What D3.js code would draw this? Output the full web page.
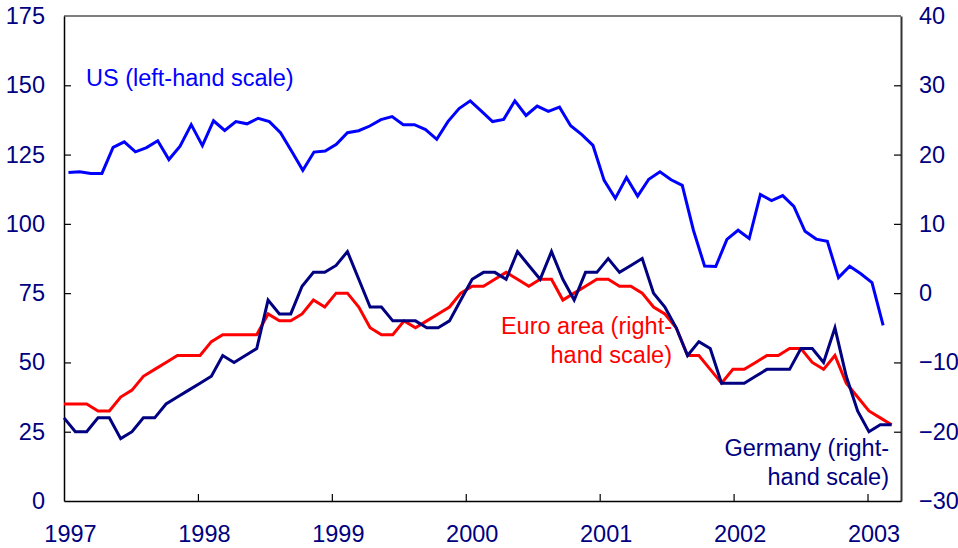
<!DOCTYPE html>
<html>
<head>
<meta charset="utf-8">
<script src="https://cdn.jsdelivr.net/npm/d3@7"></script>
<style>
  body { margin: 0; background: #fff; }
  svg text { font-family: "Liberation Sans", Arial, sans-serif; }
</style>
</head>
<body>
<div id="chart"></div>
<script>
// monthly series, Jan 1997 onwards
var usValues = [118.5, 118.8, 118.2, 118.2, 127.6, 129.6, 126.0, 127.5, 130.0, 123.2, 128.0, 135.8,
  128.2, 137.2, 133.7, 136.9, 136.1, 138.1, 136.9, 132.9, 126.2, 119.3, 125.9, 126.3,
  128.7, 132.9, 133.6, 135.3, 137.6, 138.7, 135.8, 135.8, 134.0, 130.5, 136.9, 141.6,
  144.4, 140.7, 136.9, 137.7, 144.4, 139.1, 142.5, 140.6, 142.1, 135.4, 132.2, 128.3,
  115.7, 109.2, 116.7, 110.0, 116.1, 118.8, 115.9, 113.9, 97.7, 84.8, 84.6, 94.4,
  97.7, 94.7, 110.6, 108.4, 110.2, 106.3, 97.3, 94.5, 93.7, 80.6, 84.7, 82.0,
  78.8, 63.4];
var euroValues = [-16, -16, -16, -17, -17, -15, -14, -12, -11, -10, -9, -9,
  -9, -7, -6, -6, -6, -6, -3, -4, -4, -3, -1, -2,
  0, 0, -2, -5, -6, -6, -4, -5, -4, -3, -2, 0,
  1, 1, 2, 3, 2, 1, 2, 2, -1, 0, 1, 2,
  2, 1, 1, 0, -2, -3, -5, -9, -9, -11, -13, -11,
  -11, -10, -9, -9, -8, -8, -10, -11, -9, -13, -15, -17,
  -18, -19];
var germanyValues = [-18, -20, -20, -18, -18, -21, -20, -18, -18, -16, -15, -14,
  -13, -12, -9, -10, -9, -8, -1, -3, -3, 1, 3, 3,
  4, 6, 2, -2, -2, -4, -4, -4, -5, -5, -4, -1,
  2, 3, 3, 2, 6, 4, 2, 6, 2, -1, 3, 3,
  5, 3, 4, 5, 0, -2, -5, -9, -7, -8, -13, -13,
  -13, -12, -11, -11, -11, -8, -8, -10, -5, -12, -17, -20,
  -19, -19];
var yearTicks = [1997, 1998, 1999, 2000, 2001, 2002, 2003];
var leftTicks = [0, 25, 50, 75, 100, 125, 150, 175];
var rightTicks = [-30, -20, -10, 0, 10, 20, 30, 40];

var width = 958, height = 548;
var margin = {top: 16, right: 57, bottom: 47, left: 64};
var x0 = margin.left, x1 = width - margin.right;
var y0 = height - margin.bottom, y1 = margin.top;
var fontSize = 23.5;

var svg = d3.select("#chart").append("svg")
    .attr("width", width)
    .attr("height", height);

var x = d3.scaleLinear().domain([1997, 2003.25]).range([x0, x1]);
var yLeft = d3.scaleLinear().domain([0, 175]).range([y0, y1]);
var yRight = d3.scaleLinear().domain([-30, 40]).range([y0, y1]);

// US plotted mid-month; survey series spread over their own span
var usX = function(d, i) { return x(1997 + (i + 0.4) / 12); };
var surveyX = d3.scaleLinear().domain([0, euroValues.length - 1]).range([x(1997), x(2003.18)]);

var navy = "#000080";

// frame
svg.append("line").attr("x1", x0).attr("x2", x1).attr("y1", y1).attr("y2", y1)
  .attr("stroke", "#000").attr("stroke-width", 1.2);

var axL = svg.append("g").attr("transform", "translate(" + x0 + ",0)")
  .call(d3.axisLeft(yLeft).tickValues(leftTicks).tickSizeInner(-7).tickSizeOuter(0).tickPadding(19));
var axR = svg.append("g").attr("transform", "translate(" + x1 + ",0)")
  .call(d3.axisRight(yRight).tickValues(rightTicks).tickSizeInner(-7).tickSizeOuter(0).tickPadding(18));
var axB = svg.append("g").attr("transform", "translate(0," + y0 + ")")
  .call(d3.axisBottom(x).tickValues(yearTicks).tickFormat(d3.format("d")).tickSizeInner(-7).tickSizeOuter(0).tickPadding(24));

[axL, axR, axB].forEach(function(g) {
  g.select(".domain").attr("stroke", "#000").attr("stroke-width", 1.5);
  g.selectAll(".tick line").attr("stroke", "#000").attr("stroke-width", 1.2);
  g.selectAll(".tick text").attr("fill", navy).attr("font-size", fontSize)
    .attr("font-family", "Liberation Sans, Arial, sans-serif");
});
axR.select(".domain").attr("stroke", "#333").attr("stroke-width", 2);
axB.selectAll(".tick text").attr("dx", 6);
axB.selectAll(".tick").filter(function(d) { return d === 1997; }).select("line").remove();
axL.selectAll(".tick").filter(function(d) { return d === 0 || d === 175; }).select("line").remove();
axR.selectAll(".tick").filter(function(d) { return d === -30 || d === 40; }).select("line").remove();

// series
var lineUS = d3.line().x(usX).y(function(d) { return yLeft(d); });
var lineSurvey = d3.line().x(function(d, i) { return surveyX(i); }).y(function(d) { return yRight(d); });

svg.append("path").datum(usValues).attr("d", lineUS)
  .attr("fill", "none").attr("stroke", "#0000ff").attr("stroke-width", 3);
svg.append("path").datum(euroValues).attr("d", lineSurvey)
  .attr("fill", "none").attr("stroke", "#ff0000").attr("stroke-width", 3);
svg.append("path").datum(germanyValues).attr("d", lineSurvey)
  .attr("fill", "none").attr("stroke", navy).attr("stroke-width", 3);

// labels
function label(lines, xp, yp, anchor, color) {
  var t = svg.append("text").attr("x", xp).attr("y", yp)
    .attr("text-anchor", anchor).attr("fill", color).attr("font-size", fontSize);
  lines.forEach(function(s, i) {
    t.append("tspan").attr("x", xp).attr("dy", i === 0 ? 0 : 29).text(s);
  });
}
label(["US (left-hand scale)"], 86, 86, "start", "#0000ff");
label(["Euro area (right-", "hand scale)"], 672, 334, "end", "#ff0000");
label(["Germany (right-", "hand scale)"], 889, 456, "end", navy);
</script>
</body>
</html>
